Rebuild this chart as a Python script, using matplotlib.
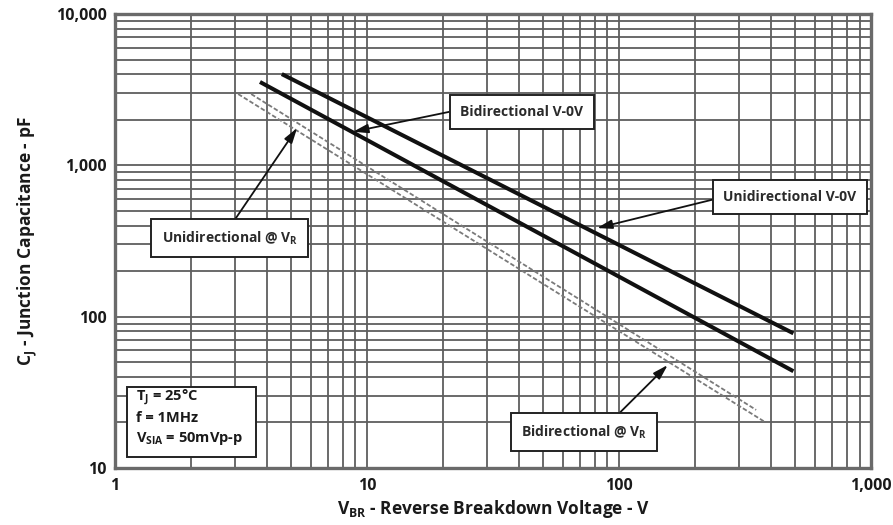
import numpy as np
import matplotlib
matplotlib.use("Agg")
import matplotlib.pyplot as plt
from matplotlib.ticker import LogLocator, FixedLocator, NullFormatter
from matplotlib.patches import Rectangle

plt.rcParams['font.family'] = ['Open Sans', 'DejaVu Sans']
plt.rcParams['font.weight'] = 'bold'
plt.rcParams['axes.labelweight'] = 'bold'
plt.rcParams['mathtext.fontset'] = 'custom'
plt.rcParams['mathtext.rm'] = 'Open Sans:bold'
plt.rcParams['mathtext.it'] = 'Open Sans:bold'
plt.rcParams['mathtext.bf'] = 'Open Sans:bold'

# curve end points (V, pF)
uni_0v_x = [4.59, 492]
uni_0v_y = [4010, 77.6]
bi_0v_x = [3.76, 492]
bi_0v_y = [3556, 43.6]
uni_vr_x = [3.47, 350]
uni_vr_y = [2960, 24.2]
bi_vr_x = [3.08, 380]
bi_vr_y = [2960, 20.1]

x_ticks = [1, 10, 100, 1000]
x_labels = ["1", "10", "100", "1,000"]
y_ticks = [10, 100, 1000, 10000]
y_labels = ["10", "100", "1,000", "10,000"]

grid_col = '#5e5e5e'

fig = plt.figure(figsize=(8.93, 5.25), dpi=100)
ax = fig.add_axes([0.1288, 0.1086, 0.8466, 0.8647])
ax.set_xscale('log')
ax.set_yscale('log')
ax.set_xlim(1, 1000)
ax.set_ylim(10, 10000)

ax.xaxis.set_major_locator(FixedLocator(x_ticks))
ax.yaxis.set_major_locator(FixedLocator(y_ticks))
ax.xaxis.set_minor_locator(LogLocator(base=10, subs=np.arange(2, 10)))
ax.yaxis.set_minor_locator(LogLocator(base=10, subs=np.arange(2, 10)))
ax.xaxis.set_minor_formatter(NullFormatter())
ax.yaxis.set_minor_formatter(NullFormatter())
ax.set_xticklabels(x_labels, fontweight='bold')
ax.set_yticklabels(y_labels, fontweight='bold')
ax.tick_params(which='both', length=0, labelsize=11.5, colors='#1a1a1a')
ax.tick_params(axis='x', pad=7)
ax.tick_params(axis='y', pad=6)

ax.grid(True, which='both', color=grid_col, linewidth=1.3)
ax.set_axisbelow(True)
for s in ax.spines.values():
    s.set_color('#6a6a6a')
    s.set_linewidth(2.4)

# curves
ax.plot(uni_0v_x, uni_0v_y, color='#111111', lw=2.9, solid_capstyle='butt')
ax.plot(bi_0v_x, bi_0v_y, color='#111111', lw=2.9, solid_capstyle='butt')
ax.plot(uni_vr_x, uni_vr_y, color='#7a7a7a', lw=1.3, dashes=(2.5, 1.2))
ax.plot(bi_vr_x, bi_vr_y, color='#7a7a7a', lw=1.3, dashes=(2.5, 1.2))

box = dict(boxstyle='square,pad=0.75', fc='white', ec='#222222', lw=1.4)
arr = '-|>,head_length=0.9,head_width=0.27'

def note(txt, xy, xytext, rel):
    ax.annotate(txt, xy=xy, xytext=xytext, ha='center', va='center',
                fontsize=10, color='#2a2a2a', fontweight='bold', bbox=box,
                arrowprops=dict(arrowstyle=arr, color='#111111', lw=1.3,
                                relpos=rel, shrinkA=0, shrinkB=0))

note("Bidirectional V-0V", (8.8, 1667), (41.2, 2250), (0, 0.68))
note("Unidirectional V-0V", (81.8, 385), (475, 617), (0, 0.5))
note("Unidirectional @ V$_R$", (5.28, 1765), (2.85, 331), (0.49, 1))
note("Bidirectional @ V$_R$", (156, 47.9), (72.6, 17.3), (0.7, 1))

# conditions box
ax.add_patch(Rectangle((0.0155, 0.0249), 0.1706, 0.153, transform=ax.transAxes,
                       fc='white', ec='#222222', lw=1.4, zorder=3))
ax.text(1.208, 21.7, "T$_J$ = 25°C\nf = 1MHz\nV$_{SIA}$ = 50mVp-p",
        ha='left', va='center', fontsize=10.5, color='#1a1a1a',
        fontweight='bold', linespacing=1.35, zorder=4)

ax.set_xlabel("V$_{BR}$ - Reverse Breakdown Voltage - V", fontsize=12.5,
              color='#1a1a1a', fontweight='bold', labelpad=3)
ax.set_ylabel("C$_J$ - Junction Capacitance - pF", fontsize=12.5,
              color='#1a1a1a', fontweight='bold', labelpad=12)

fig.savefig("out.png", dpi=100)
